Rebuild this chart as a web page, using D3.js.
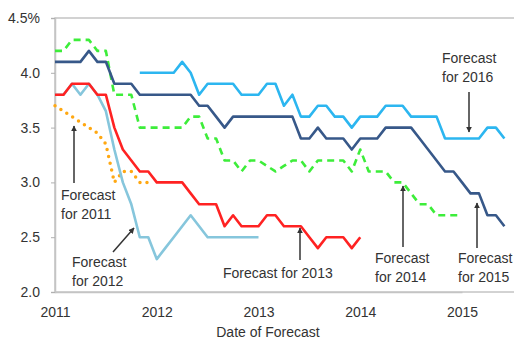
<!DOCTYPE html>
<html>
<head>
<meta charset="utf-8">
<script src="https://cdn.jsdelivr.net/npm/d3@7"></script>
<style>
  html, body { margin: 0; padding: 0; background: #fff; }
  svg { display: block; font-family: "Liberation Sans", Arial, sans-serif; }
</style>
</head>
<body>
<svg id="chart" width="514" height="339"></svg>
<script>
// monthly forecasts, each series starts at [year, month]
const fc2011Start = [2011, 1];
const fc2011 = [3.7, 3.65, 3.6, 3.55, 3.5, 3.45, 3.35, 3.0, 3.1, 3.1, 3.0, 3.0];

const fc2012Start = [2011, 1];
const fc2012 = [3.8, 3.8, 3.9, 3.8, 3.9, 3.8, 3.65, 3.3, 3.0, 2.8, 2.5, 2.5,
                2.3, 2.4, 2.5, 2.6, 2.7, 2.6, 2.5, 2.5, 2.5, 2.5, 2.5, 2.5,
                2.5];

const fc2013Start = [2011, 1];
const fc2013 = [3.8, 3.8, 3.9, 3.9, 3.9, 3.8, 3.8, 3.5, 3.3, 3.2, 3.1, 3.1,
                3.0, 3.0, 3.0, 3.0, 2.9, 2.8, 2.8, 2.8, 2.6, 2.7, 2.6, 2.6,
                2.6, 2.7, 2.7, 2.6, 2.6, 2.6, 2.5, 2.4, 2.5, 2.5, 2.5, 2.4,
                2.5];

const fc2014Start = [2011, 1];
const fc2014 = [4.2, 4.2, 4.3, 4.3, 4.3, 4.2, 4.2, 3.8, 3.8, 3.8, 3.5, 3.5,
                3.5, 3.5, 3.5, 3.5, 3.6, 3.6, 3.4, 3.4, 3.2, 3.2, 3.1, 3.2,
                3.2, 3.15, 3.1, 3.15, 3.2, 3.2, 3.1, 3.2, 3.2, 3.2, 3.2, 3.1,
                3.3, 3.1, 3.1, 3.1, 3.0, 3.0, 2.9, 2.8, 2.8, 2.7, 2.7, 2.7,
                2.7];

const fc2015Start = [2011, 1];
const fc2015 = [4.1, 4.1, 4.1, 4.1, 4.2, 4.1, 4.1, 3.9, 3.9, 3.9, 3.8, 3.8,
                3.8, 3.8, 3.8, 3.8, 3.8, 3.7, 3.7, 3.6, 3.5, 3.6, 3.6, 3.6,
                3.6, 3.6, 3.6, 3.6, 3.6, 3.4, 3.4, 3.5, 3.4, 3.4, 3.4, 3.3,
                3.4, 3.4, 3.4, 3.5, 3.5, 3.5, 3.5, 3.4, 3.3, 3.2, 3.1, 3.1,
                3.0, 2.9, 2.9, 2.7, 2.7, 2.6];

const fc2016Start = [2011, 11];
const fc2016 = [4.0, 4.0,
                4.0, 4.0, 4.0, 4.1, 4.0, 3.8, 3.9, 3.9, 3.9, 3.9, 3.8, 3.8,
                3.8, 3.9, 3.9, 3.7, 3.8, 3.6, 3.6, 3.7, 3.7, 3.6, 3.6, 3.5,
                3.6, 3.6, 3.6, 3.7, 3.7, 3.7, 3.6, 3.6, 3.6, 3.6, 3.4, 3.4,
                3.4, 3.4, 3.4, 3.5, 3.5, 3.4];

const yearTicks = [2011, 2012, 2013, 2014, 2015];
const rateTicks = [2.0, 2.5, 3.0, 3.5, 4.0, 4.5];

// turn a start month + values into points with a decimal year
function toPoints(start, values) {
    return values.map(function(v, i) {
        return {t: start[0] + (start[1] - 1 + i) / 12, v: v};
    });
}

const svg = d3.select("#chart");
const plotLeft = 55, plotTop = 18, plotBottom = 292;

const x = d3.scaleLinear().domain([2011, 2015]).range([plotLeft, 462]);
const y = d3.scaleLinear().domain([2.0, 4.5]).range([plotBottom, plotTop]);

// plot frame
svg.append("rect")
    .attr("x", plotLeft).attr("y", plotTop)
    .attr("width", 470).attr("height", plotBottom - plotTop)
    .style("fill", "none")
    .style("stroke", "#c4c4c4")
    .style("stroke-width", 1.5);

// y axis
const yAxis = svg.append("g")
    .attr("transform", "translate(" + plotLeft + ",0)")
    .call(d3.axisLeft(y).tickValues(rateTicks).tickSize(4).tickPadding(11)
        .tickFormat(function(d) { return d === 4.5 ? "4.5%" : d3.format(".1f")(d); }));

// x axis
const xAxis = svg.append("g")
    .attr("transform", "translate(0," + plotBottom + ")")
    .call(d3.axisBottom(x).tickValues(yearTicks).tickSize(0).tickPadding(15)
        .tickFormat(d3.format("d")));

[yAxis, xAxis].forEach(function(g) {
    g.select(".domain").style("stroke", "#c4c4c4").style("stroke-width", 1.5);
    g.selectAll(".tick line").style("stroke", "#b0b0b0");
    g.selectAll(".tick text")
        .style("font-size", "14px")
        .style("fill", "#333")
        .style("font-family", "Liberation Sans, Arial, sans-serif");
});

svg.append("text")
    .attr("x", 268).attr("y", 337)
    .attr("text-anchor", "middle")
    .style("font-size", "14px")
    .style("fill", "#333")
    .text("Date of Forecast");

// lines
const line = d3.line()
    .x(function(d) { return x(d.t); })
    .y(function(d) { return y(d.v); });

const series = [
    {data: toPoints(fc2011Start, fc2011), color: "#ffa812", width: 3.5, dash: "0 7", cap: "round"},
    {data: toPoints(fc2012Start, fc2012), color: "#86c6dc", width: 2.6},
    {data: toPoints(fc2013Start, fc2013), color: "#ff2222", width: 2.6},
    {data: toPoints(fc2014Start, fc2014), color: "#3ded3a", width: 2.6, dash: "7 5"},
    {data: toPoints(fc2015Start, fc2015), color: "#375889", width: 2.6},
    {data: toPoints(fc2016Start, fc2016), color: "#2cb6f0", width: 2.6}
];

series.forEach(function(s) {
    svg.append("path")
        .datum(s.data)
        .attr("d", line)
        .style("fill", "none")
        .style("stroke", s.color)
        .style("stroke-width", s.width)
        .style("stroke-linejoin", "round")
        .style("stroke-linecap", s.cap || "butt")
        .style("stroke-dasharray", s.dash || null);
});

// annotations
svg.append("defs").append("marker")
    .attr("id", "head")
    .attr("viewBox", "0 0 10 10")
    .attr("refX", 9).attr("refY", 5)
    .attr("markerWidth", 4).attr("markerHeight", 4)
    .attr("orient", "auto")
    .append("path")
    .attr("d", "M0,0L10,5L0,10Z")
    .style("fill", "#333");

const arrows = [
    [469, 92, 469, 132],
    [74, 183, 74, 126],
    [113, 252, 134, 228],
    [300, 260, 300, 228],
    [403, 247, 403, 186],
    [477, 248, 477, 203]
];

arrows.forEach(function(a) {
    svg.append("line")
        .attr("x1", a[0]).attr("y1", a[1])
        .attr("x2", a[2]).attr("y2", a[3])
        .style("stroke", "#333")
        .style("stroke-width", 1.5)
        .attr("marker-end", "url(#head)");
});

const labels = [
    {x: 442, y: 63, lines: ["Forecast", "for 2016"]},
    {x: 61, y: 200, lines: ["Forecast", "for 2011"]},
    {x: 72, y: 267, lines: ["Forecast", "for 2012"]},
    {x: 223, y: 278, lines: ["Forecast for 2013"]},
    {x: 375, y: 263, lines: ["Forecast", "for 2014"]},
    {x: 458, y: 263, lines: ["Forecast", "for 2015"]}
];

labels.forEach(function(l) {
    const t = svg.append("text")
        .attr("x", l.x).attr("y", l.y)
        .style("font-size", "14px")
        .style("fill", "#333");
    l.lines.forEach(function(s, i) {
        t.append("tspan")
            .attr("x", l.x)
            .attr("dy", i === 0 ? 0 : 19)
            .text(s);
    });
});
</script>
</body>
</html>
